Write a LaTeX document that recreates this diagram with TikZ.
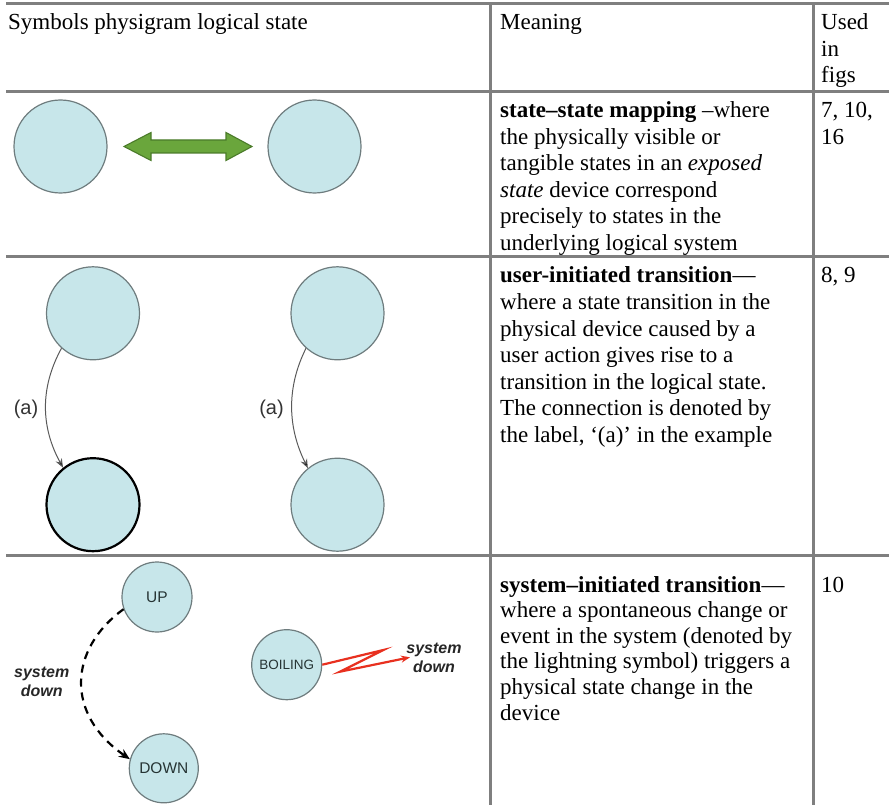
\documentclass[tikz,border=0pt]{standalone}
\usepackage{fontspec}
\setmainfont{Liberation Serif}
\newfontfamily\diagfont{Liberation Sans}
\usetikzlibrary{arrows.meta}
\definecolor{rulegray}{HTML}{7F7F7F}
\definecolor{statefill}{HTML}{C7E6EA}
\definecolor{statedraw}{HTML}{6E7C7E}
\definecolor{mapgreen}{HTML}{6AA63C}
\definecolor{mapgreendark}{HTML}{4B7B2A}
\definecolor{boltred}{HTML}{E8301F}
\definecolor{labelgray}{HTML}{333333}
\definecolor{statetext}{HTML}{263434}
\begin{document}
\begin{tikzpicture}[x=1pt,y=-1pt,
  rule/.style={draw=rulegray, line width=3pt},
  cell/.style={anchor=base west, inner sep=0pt, font=\fontsize{23}{26.5}\selectfont},
  statebox/.style={circle, draw=statedraw, fill=statefill, line width=1.2pt, inner sep=0pt},
  bigstate/.style={statebox, minimum size=93pt},
  smallstate/.style={statebox, minimum size=70pt, text=statetext},
  useredge/.style={draw=black!65, line width=1pt, -{Stealth[length=9pt,width=7pt,fill=black]}},
  sysedge/.style={draw=black, line width=2.2pt, dash pattern=on 8pt off 6pt, -{Stealth[length=11pt,width=9pt]}},
  edgelabel/.style={inner sep=0pt, text=labelgray, font=\diagfont\fontsize{20}{23}\selectfont},
  syslabel/.style={anchor=base, inner sep=0pt, text=black!85, font=\diagfont\bfseries\itshape\fontsize{16}{19}\selectfont}]
\useasboundingbox (0,0) rectangle (889,805);

% table rules
\draw[rule] (6,4) -- (889,4);
\draw[rule] (6,92) -- (889,92);
\draw[rule] (6,257) -- (889,257);
\draw[rule] (6,555) -- (889,555);
\draw[rule] (490,4) -- (490,805);
\draw[rule] (813,4) -- (813,805);

% header row
\node[cell] (head1) at (8,30) {Symbols physigram logical state};
\node[cell] (head2) at (500,30) {Meaning};
\foreach \t [count=\i from 0] in {Used, in, figs}
  \node[cell] (head3-\i) at (821,30+26.5*\i) {\t};

% row 1: state-state mapping
\node[bigstate] (s1) at (60.5,146.5) {};
\node[bigstate] (s2) at (314.5,146.5) {};
\fill[mapgreen, draw=mapgreendark, line width=1.1pt]
  (124,146.5) -- (151,132.5) -- (151,140) -- (226,140) -- (226,132.5) -- (252,146.5)
  -- (226,160.5) -- (226,153) -- (151,153) -- (151,160.5) -- cycle;
\foreach \t [count=\i from 0] in {%
    {\textbf{state–state mapping} –where},
    {the physically visible or},
    {tangible states in an \textit{exposed}},
    {\textit{state} device correspond},
    {precisely to states in the},
    {underlying logical system}}
  \node[cell] (r1-\i) at (500,118+26.5*\i) {\t};
\node[cell] (f1a) at (821,118) {7, 10,};
\node[cell] (f1b) at (821,144.5) {16};

% row 2: user-initiated transition
\node[bigstate] (a1) at (93,313.3) {};
\node[bigstate, draw=black, line width=2.2pt] (a2) at (93,504.7) {};
\node[bigstate] (b1) at (337.5,313.3) {};
\node[bigstate] (b2) at (337.5,504.7) {};
\draw[useredge] (a1.228) .. controls +(-22,40) and +(-22,-40) .. (a2.129);
\draw[useredge] (b1.228) .. controls +(-20,40) and +(-20,-40) .. (b2.129);
\node[edgelabel] (la) at (26,409) {(a)};
\node[edgelabel] (lb) at (271.5,409) {(a)};
\foreach \t [count=\i from 0] in {%
    {\textbf{user-initiated transition}—},
    {where a state transition in the},
    {physical device caused by a},
    {user action gives rise to a},
    {transition in the logical state.},
    {The connection is denoted by},
    {the label, ‘(a)’ in the example}}
  \node[cell] (r2-\i) at (500,283+26.5*\i) {\t};
\node[cell] (f2) at (821,283) {8, 9};

% row 3: system-initiated transition
\node[smallstate, font=\diagfont\fontsize{15.5}{18}\selectfont] (up) at (157,597) {UP};
\node[smallstate, minimum size=69pt, font=\diagfont\fontsize{15.5}{18}\selectfont] (down) at (163.8,768.3) {DOWN};
\node[smallstate, font=\diagfont\fontsize{13.5}{16}\selectfont] (boil) at (286.7,664.7) {BOILING};
\draw[sysedge] (up.200) .. controls +(-55,40) and +(-65,-45) .. (down.165);
\node[syslabel] (sd1) at (41.7,677) {system};
\node[syslabel] (sd2) at (41.7,696) {down};
\coordinate (boltA) at (383.3,650);
\coordinate (boltB) at (340,671.7);
\coordinate (boltEnd) at (410,657.3);
\draw[boltred, line width=2.2pt, line join=miter, -{Stealth[length=9pt,width=7pt]}]
  (boil.east) -- (boltA) -- (boltB) -- (boltEnd);
\node[syslabel] (bd1) at (434,653) {system};
\node[syslabel] (bd2) at (434,672) {down};
\foreach \t [count=\i from 0] in {%
    {\textbf{system–initiated transition}—},
    {where a spontaneous change or},
    {event in the system (denoted by},
    {the lightning symbol) triggers a},
    {physical state change in the},
    {device}}
  \node[cell] (r3-\i) at (500,592+25.6*\i) {\t};
\node[cell] (f3) at (821,592) {10};
\end{tikzpicture}
\end{document}
